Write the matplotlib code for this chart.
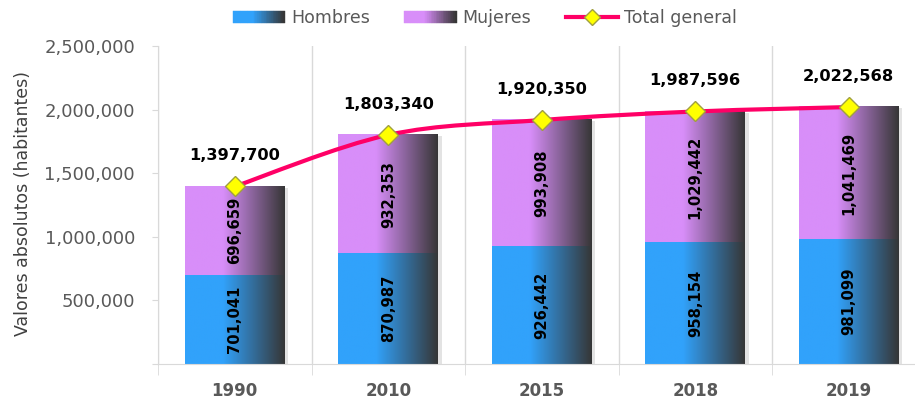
import numpy as np
import matplotlib
matplotlib.use("Agg")
import matplotlib.pyplot as plt
import matplotlib.patheffects as pe
from matplotlib.colors import LinearSegmentedColormap
from matplotlib.patches import Patch, PathPatch
from matplotlib.path import Path
from matplotlib.lines import Line2D
from matplotlib.legend_handler import HandlerTuple
from matplotlib.ticker import FuncFormatter

# ── data ──────────────────────────────────────────────────────────────────────
years   = ["1990", "2010", "2015", "2018", "2019"]
hombres = [701041, 870987, 926442, 958154, 981099]
mujeres = [696659, 932353, 993908, 1029442, 1041469]
total   = [1397700, 1803340, 1920350, 1987596, 2022568]

# ── theme ─────────────────────────────────────────────────────────────────────
BLUE   = "#31A2FB"
PURPLE = "#D88EF9"
DARK   = "#363636"
PINK   = "#FF0066"
YELLOW = "#FFFF00"
GRID   = "#D9D9D9"
TICK   = "#595959"

cmap_blue = LinearSegmentedColormap.from_list("hb", [(0, BLUE), (0.38, BLUE), (1, DARK)])
cmap_purp = LinearSegmentedColormap.from_list("mj", [(0, PURPLE), (0.38, PURPLE), (1, DARK)])

fig = plt.figure(figsize=(9.15, 4.0), dpi=100)
ax = fig.add_axes([0.1727, 0.09, 0.8388, 0.794])

x = np.arange(len(years))
shadow = [pe.SimplePatchShadow(offset=(2.5, -1), shadow_rgbFace="#909090", alpha=0.25), pe.Normal()]
b1 = ax.bar(x, hombres, width=0.65, color=BLUE, zorder=2, path_effects=shadow)
b2 = ax.bar(x, mujeres, bottom=hombres, width=0.65, color=PURPLE, zorder=2, path_effects=shadow)

# gradient fill over each bar segment
grad = np.linspace(0, 1, 256).reshape(1, -1)
for bars, cmap in ((b1, cmap_blue), (b2, cmap_purp)):
    for r in bars:
        x0, y0, w, h = r.get_x(), r.get_y(), r.get_width(), r.get_height()
        ax.imshow(grad, cmap=cmap, extent=[x0, x0 + w, y0, y0 + h],
                  aspect="auto", zorder=2.5, interpolation="bilinear")

# smoothed total line (bezier through the points, excel-style)
pts = np.column_stack([x, total]).astype(float)
n = len(pts)
verts, codes = [pts[0]], [Path.MOVETO]
for i in range(n - 1):
    p_prev = pts[max(i - 1, 0)]
    p_next = pts[min(i + 2, n - 1)]
    c1 = pts[i] + (pts[i + 1] - p_prev) / 6
    c2 = pts[i + 1] - (p_next - pts[i]) / 6
    verts += [c1, c2, pts[i + 1]]
    codes += [Path.CURVE4] * 3
ax.add_patch(PathPatch(Path(verts, codes), fill=False, edgecolor=PINK, lw=3,
                       zorder=3, capstyle="round"))
ax.plot(x, total, ls="none", marker="D", ms=10, mfc=YELLOW, mec="#A0A040",
        mew=1, zorder=4)

# labels
for xi, h, m, t in zip(x, hombres, mujeres, total):
    ax.text(xi, h / 2, f"{h:,}", rotation=90, ha="center", va="center",
            fontsize=10.6, fontweight="bold", color="black", zorder=5)
    ax.text(xi, h + m / 2, f"{m:,}", rotation=90, ha="center", va="center",
            fontsize=10.6, fontweight="bold", color="black", zorder=5)
    ax.annotate(f"{t:,}", (xi, t), xytext=(0, 22), textcoords="offset points",
                ha="center", va="center", fontsize=11.7, fontweight="bold",
                color="black", zorder=5)

# axes
ax.set_xlim(-0.5, 4.5)
ax.set_ylim(0, 2_500_000)
ax.set_yticks(np.arange(0, 2_500_001, 500_000))
ax.yaxis.set_major_formatter(FuncFormatter(lambda v, p: "" if v == 0 else f"{int(v):,}"))
ax.tick_params(axis="y", length=4.5, color=GRID, labelcolor=TICK, labelsize=13, pad=12)
ax.set_xticks(x, years)
ax.tick_params(axis="x", which="major", length=0, labelcolor=TICK, labelsize=12, pad=13)
for lbl in ax.get_xticklabels():
    lbl.set_fontweight("bold")
ax.set_xticks(np.arange(-0.5, 5, 1), minor=True)
ax.tick_params(axis="x", which="minor", length=8, color=GRID)
ax.grid(True, axis="x", which="minor", color=GRID, lw=1)
ax.set_axisbelow(True)
for s in ("top", "right"):
    ax.spines[s].set_visible(False)
for s in ("left", "bottom"):
    ax.spines[s].set_color(GRID)

fig.text(23 / 915, 0.49, "Valores absolutos (habitantes)", rotation=90,
         ha="center", va="center", fontsize=12.5, color="#404040")

# legend with stepped gradient swatches
h_hom = tuple(Patch(facecolor=c, edgecolor=c, lw=0.3) for c in cmap_blue(np.linspace(0, 1, 30)))
h_muj = tuple(Patch(facecolor=c, edgecolor=c, lw=0.3) for c in cmap_purp(np.linspace(0, 1, 30)))
h_tot = Line2D([], [], color=PINK, lw=3, marker="D", ms=8, mfc=YELLOW, mec="#A0A040")
fig.legend([h_hom, h_muj, h_tot], ["Hombres", "Mujeres", "Total general"],
           loc="center", bbox_to_anchor=(0.53, 0.955), ncol=3, frameon=False,
           fontsize=12.5, handlelength=3.0, handletextpad=0.35, columnspacing=2.0,
           labelcolor=TICK, handler_map={tuple: HandlerTuple(ndivide=None, pad=0)})

fig.savefig("out.png", dpi=100)
